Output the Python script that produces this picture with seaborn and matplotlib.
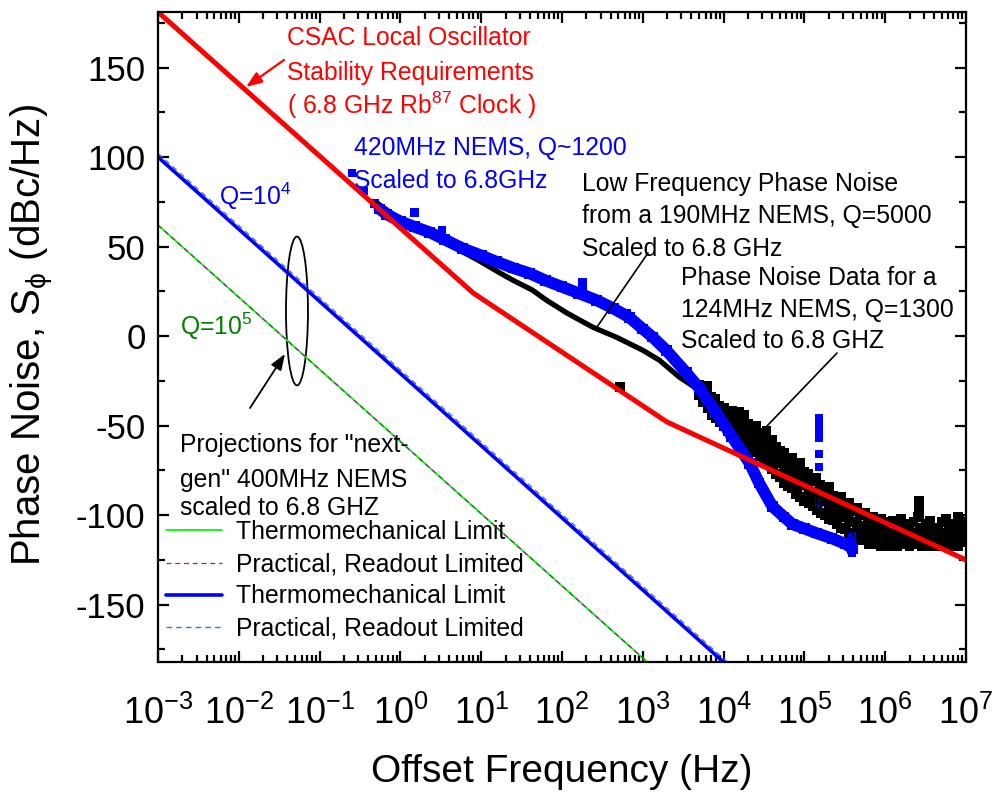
import numpy as np
import pandas as pd
import matplotlib
matplotlib.use("Agg")
import matplotlib.pyplot as plt
import seaborn as sns
from matplotlib.patches import Ellipse
from matplotlib.lines import Line2D
from matplotlib.ticker import LogLocator, MultipleLocator, NullFormatter

# ---------------- data ----------------
csac_freq = [1e-3, 8.0, 2.0e3, 1e7]
csac_phase = [181, 24, -48, -125]

proj_freq = [1e-3, 1e7]
q4_thermo = [100, -303]
q4_practical = [102, -301]
q5_thermo = [62, -341]
q5_practical = [62, -341]

nems420_freq = [0.55, 0.68, 1.0, 1.5, 2.3, 3.5, 5.9, 10, 15.5, 25, 40, 63, 100, 160,
                270, 430, 680, 1000, 1320, 1960, 3460, 5000, 7900, 12600, 21000,
                27500, 40000, 56000, 71000, 1.0e5, 1.4e5, 2.2e5, 3.2e5, 3.9e5]
nems420_phase = [71, 68, 64, 61, 58, 54, 49, 45, 41.5, 38, 35, 31, 27.5, 24,
                 20, 15.5, 10.5, 4, -0.5, -8, -20.5, -29, -42, -56, -71,
                 -82, -95, -101, -105, -107.5, -110, -113, -116, -118.5]
nems420_extra_freq = [0.25, 0.35, 0.48, 1.5, 3.3, 180, 180, 630,
                      1.52e5, 1.52e5, 1.52e5, 1.52e5, 1.52e5, 1.52e5, 1.52e5,
                      3.9e5, 3.9e5, 3.9e5]
nems420_extra_phase = [91, 81, 74, 69, 59, 27, 30, 13,
                       -46, -50, -53, -57, -66, -73, -93,
                       -112, -116, -121]

nems190_freq = [0.51, 1.0, 2.3, 5.4, 9.5, 17, 24.5, 43, 64, 115, 165, 240, 470,
                990, 1600, 2830, 5000]
nems190_phase = [74.4, 65, 57, 48, 42, 35.3, 31.3, 25.7, 20.1, 12.9, 9.0, 5.0, -0.6,
                 -7.8, -13.4, -22.9, -30.2]

# 124 MHz NEMS: noisy cloud, read as upper / middle / lower envelope points
nems124_log10f = [3.70, 3.75, 3.80, 3.85, 3.90, 3.95, 4.00, 4.05, 4.10, 4.15, 4.20,
                  4.25, 4.30, 4.35, 4.40, 4.45, 4.50, 4.55, 4.60, 4.65, 4.70, 4.75,
                  4.80, 4.85, 4.90, 4.95, 5.00, 5.05, 5.10, 5.15, 5.20, 5.25, 5.30,
                  5.35, 5.40, 5.45, 5.50, 5.55, 5.60, 5.65, 5.70, 5.75, 5.80, 5.85,
                  5.90, 5.95, 6.00, 6.05, 6.10, 6.15, 6.20, 6.25, 6.30, 6.35, 6.40,
                  6.45, 6.50, 6.55, 6.60, 6.65, 6.70, 6.75, 6.80, 6.85, 6.90, 6.95]
nems124_upper = [-27, -31, -28, -34, -35, -39, -40, -43, -42, -44, -46, -44, -49, -51,
                 -50, -54, -55, -59, -58, -62, -64, -65, -69, -68, -73, -71, -76, -77,
                 -81, -79, -83, -85, -84, -89, -92, -90, -95, -93, -98, -96, -100, -99,
                 -103, -101, -105, -102, -106, -104, -103, -107, -102, -105, -108, -104,
                 -101, -107, -105, -103, -107, -108, -104, -102, -107, -105, -101, -104]
nems124_middle = [-32, -35, -37, -41, -40, -45, -47, -46, -51, -49, -53, -52, -56, -57,
                  -58, -61, -62, -66, -67, -71, -70, -75, -77, -78, -81, -83, -82, -87,
                  -88, -90, -91, -92, -95, -96, -99, -100, -101, -104, -104, -107, -106,
                  -109, -108, -111, -110, -112, -111, -110, -112, -110, -111, -112, -110,
                  -111, -109, -112, -110, -111, -113, -111, -110, -112, -111, -110, -111,
                  -109]
nems124_lower = [-33, -37, -40, -44, -46, -48, -50, -53, -55, -56, -58, -60, -61, -63,
                 -65, -67, -70, -71, -74, -77, -79, -82, -84, -85, -88, -90, -92, -93,
                 -95, -97, -99, -100, -102, -103, -105, -107, -108, -110, -112, -112,
                 -114, -114, -116, -116, -116, -117, -117, -117, -116, -117, -115, -116,
                 -117, -116, -115, -117, -116, -117, -117, -117, -116, -117, -117, -116,
                 -117, -115]
nems124_extra_log10f = [2.72, 3.79, 4.19, 4.53, 4.85, 5.34, 6.42, 6.42, 6.42, 6.91, 7.00, 7.00]
nems124_extra_phase = [-28.5, -28.5, -42.5, -53, -82, -101, -92, -97, -101, -103, -106, -115]

# interleave the three readings along frequency
_f = 10 ** np.array(nems124_log10f)
_step = 10 ** 0.025
nems124_freq = np.column_stack([_f, _f, _f * _step]).ravel()
nems124_phase = np.column_stack([nems124_upper, nems124_lower, nems124_middle]).ravel()
nems124_extra_freq = list(10 ** np.array(nems124_extra_log10f))

legend_labels = ["Thermomechanical Limit", "Practical, Readout Limited",
                 "Thermomechanical Limit", "Practical, Readout Limited"]

# ---------------- style ----------------
sns.set_theme(style="ticks")
plt.rcParams["font.family"] = ["Liberation Sans", "DejaVu Sans"]
plt.rcParams["mathtext.fontset"] = "custom"
plt.rcParams["mathtext.rm"] = "Liberation Sans"
plt.rcParams["mathtext.it"] = "Liberation Sans:italic"
plt.rcParams["mathtext.bf"] = "Liberation Sans:bold"
plt.rcParams["mathtext.sf"] = "Liberation Sans"
plt.rcParams["axes.unicode_minus"] = False
for k in ["text.color", "axes.labelcolor", "xtick.color", "ytick.color", "axes.edgecolor"]:
    plt.rcParams[k] = "black"

W, H = 996, 795
fig = plt.figure(figsize=(W / 100, H / 100), dpi=100)
ax = fig.add_axes([158 / W, 1 - 662 / H, (966 - 158) / W, (662 - 12) / H])


def fp(px, py):
    return (px / W, 1 - py / H)


FS = 17.8
BLUE = "#0000ff"

# projections
sns.lineplot(x=proj_freq, y=q5_thermo, color="#00ff00", lw=1.3, ax=ax)
sns.lineplot(x=proj_freq, y=q5_practical, color="#803080", lw=0.9, ax=ax,
             linestyle=(0, (4, 3)))
sns.lineplot(x=proj_freq, y=q4_thermo, color=BLUE, lw=2.6, ax=ax)
sns.lineplot(x=proj_freq, y=q4_practical, color="#4a66ff", lw=1.0, ax=ax,
             linestyle=(0, (4, 3)))

# black data
sns.lineplot(x=nems190_freq, y=nems190_phase, color="black", lw=3.8, ax=ax,
             estimator=None, sort=False)
sns.lineplot(x=nems124_freq, y=nems124_phase, color="black", lw=1.2, ax=ax,
             estimator=None, sort=False)
sns.scatterplot(x=nems124_freq, y=nems124_phase, color="black", marker="s", s=50,
                edgecolor="none", linewidth=0, ax=ax)
sns.scatterplot(x=nems124_extra_freq, y=nems124_extra_phase, color="black", marker="s",
                s=50, edgecolor="none", linewidth=0, ax=ax)

# blue data
sns.lineplot(x=nems420_freq, y=nems420_phase, color=BLUE, lw=8.5, ax=ax,
             estimator=None, sort=False)
sns.scatterplot(x=nems420_freq, y=nems420_phase, color=BLUE, marker="s", s=60,
                edgecolor="none", linewidth=0, ax=ax)
sns.scatterplot(x=nems420_extra_freq, y=nems420_extra_phase, color=BLUE, marker="s",
                s=36, edgecolor="none", linewidth=0, ax=ax)

# CSAC requirement
sns.lineplot(x=csac_freq, y=csac_phase, color="#ff0000", lw=3.6, ax=ax,
             estimator=None, sort=False)

# axes
ax.set_xscale("log")
ax.set_xlim(1e-3, 1e7)
ax.set_ylim(-182, 181)
ax.xaxis.set_major_locator(LogLocator(base=10, numticks=20))
ax.xaxis.set_minor_locator(LogLocator(base=10, subs=np.arange(2, 10), numticks=200))
ax.xaxis.set_minor_formatter(NullFormatter())
ax.yaxis.set_major_locator(MultipleLocator(50))
ax.yaxis.set_minor_locator(MultipleLocator(25))
for s in ax.spines.values():
    s.set_linewidth(1.6)
    s.set_color("black")
ax.tick_params(which="both", direction="in", top=True, right=True, color="black",
               width=1.6)
ax.tick_params(which="major", length=8)
ax.tick_params(which="minor", length=5)
ax.tick_params(axis="y", labelsize=25, pad=9, labelcolor="black")
ax.tick_params(axis="x", labelsize=26, pad=24, labelcolor="black")

ax.set_xlabel("Offset Frequency (Hz)", fontsize=28, color="black")
ax.xaxis.set_label_coords(0.5, (662 - 772) / 650)
ax.xaxis.label.set_va("center")
ax.set_ylabel(r"Phase Noise, S$_{\mathrm{\phi}}$ (dBc/Hz)", fontsize=29, color="black")
ax.yaxis.set_label_coords((32 - 158) / 808, (662 - 335) / 650)
ax.yaxis.label.set_va("center")

# annotations text
for py, s in [(45, "CSAC Local Oscillator"), (80, "Stability Requirements"),
              (114, "( 6.8 GHz Rb$^{87}$ Clock )")]:
    fig.text(*fp(287, py), s, color="#ff0000", fontsize=FS, va="baseline", ha="left")
for py, s in [(155, "420MHz NEMS, Q~1200"), (188, "Scaled to 6.8GHz")]:
    fig.text(*fp(354, py), s, color=BLUE, fontsize=FS, va="baseline", ha="left")
for py, s in [(191, "Low Frequency Phase Noise"), (223, "from a 190MHz NEMS, Q=5000"),
              (256, "Scaled to 6.8 GHz")]:
    fig.text(*fp(582, py), s, color="black", fontsize=FS, va="baseline", ha="left")
for py, s in [(285, "Phase Noise Data for a"), (317, "124MHz NEMS, Q=1300"),
              (348, "Scaled to 6.8 GHZ")]:
    fig.text(*fp(681, py), s, color="black", fontsize=FS, va="baseline", ha="left")
for py, s in [(452, 'Projections for "next-'), (487, 'gen" 400MHz NEMS'),
              (515, "scaled to 6.8 GHZ")]:
    fig.text(*fp(180, py), s, color="black", fontsize=FS, va="baseline", ha="left")
fig.text(*fp(219, 205), "Q=10$^4$", color=BLUE, fontsize=FS, va="baseline")
fig.text(*fp(180, 335), "Q=10$^5$", color="#008000", fontsize=FS, va="baseline")

# arrows and pointer lines
ax.annotate("", xy=fp(246, 87), xytext=fp(284, 60), xycoords="figure fraction",
            textcoords="figure fraction",
            arrowprops=dict(arrowstyle="-|>,head_length=0.8,head_width=0.3",
                            color="#ff0000", lw=1.6, shrinkA=0, shrinkB=0))
ax.annotate("", xy=fp(285, 354), xytext=fp(250, 408), xycoords="figure fraction",
            textcoords="figure fraction",
            arrowprops=dict(arrowstyle="-|>,head_length=0.8,head_width=0.3",
                            color="black", lw=1.3, shrinkA=0, shrinkB=0))
ax.annotate("", xy=fp(597, 327), xytext=fp(648, 253), xycoords="figure fraction",
            textcoords="figure fraction",
            arrowprops=dict(arrowstyle="-", color="black", lw=1.2, shrinkA=0, shrinkB=0))
ax.annotate("", xy=fp(767, 426), xytext=fp(837, 353), xycoords="figure fraction",
            textcoords="figure fraction",
            arrowprops=dict(arrowstyle="-", color="black", lw=1.2, shrinkA=0, shrinkB=0))

ax.add_patch(Ellipse((0.172, 0.540), 0.0272, 0.229, transform=ax.transAxes,
                     fill=False, ec="black", lw=1.3))

# legend
handles = [Line2D([], [], color="#00ff00", lw=1.3),
           Line2D([], [], color="#803080", lw=0.9, linestyle=(0, (4, 3))),
           Line2D([], [], color=BLUE, lw=2.6),
           Line2D([], [], color="#4a66ff", lw=1.0, linestyle=(0, (4, 3)))]
leg = ax.legend(handles, legend_labels, loc="upper left", bbox_to_anchor=fp(166, 520),
                bbox_transform=fig.transFigure, frameon=False, fontsize=FS,
                handlelength=2.25, handletextpad=0.6, labelspacing=0.33, borderpad=0,
                borderaxespad=0)
for t in leg.get_texts():
    t.set_color("black")

fig.savefig("out.png", dpi=100)
